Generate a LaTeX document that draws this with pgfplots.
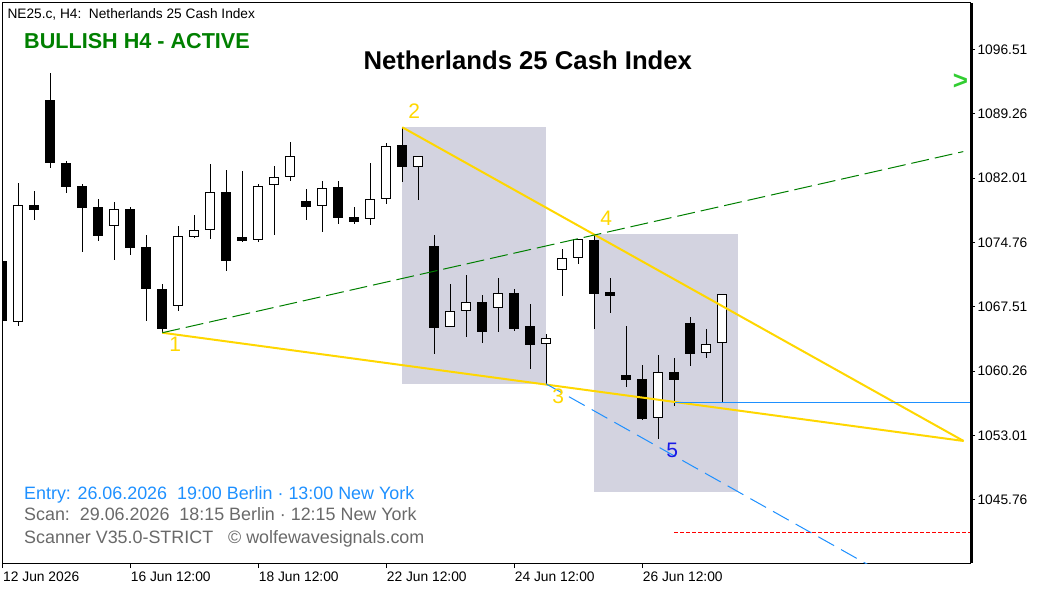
\documentclass[border=0pt]{standalone}
\usepackage{fontspec}
\setmainfont{Liberation Sans}
\usepackage{pgfplots}
\usepackage{pgfplotstable}
\pgfplotsset{compat=1.18}
\definecolor{gold}{RGB}{255,215,0}
\definecolor{boxgray}{RGB}{211,211,224}
\definecolor{dgreen}{RGB}{0,128,0}
\definecolor{dblue}{RGB}{30,144,255}
\definecolor{lgreen}{RGB}{50,205,50}
\definecolor{dgray}{RGB}{105,105,105}
\definecolor{wblue}{RGB}{25,25,230}

\pgfplotstableread{
x O H L C
0 1072.66 1073.34 1065.45 1065.93
2 1078.97 1080.55 1077.28 1078.41
3 1090.80 1093.88 1083.11 1083.67
4 1083.70 1083.93 1080.36 1081.03
5 1081.11 1081.34 1073.71 1078.67
6 1078.75 1079.65 1074.95 1075.51
8 1078.52 1078.75 1073.34 1074.16
9 1074.24 1075.59 1065.93 1069.54
10 1069.51 1070.07 1064.58 1065.00
14 1080.44 1082.92 1071.57 1072.69
15 1075.33 1082.80 1074.83 1074.95
19 1079.39 1080.77 1077.31 1078.78
21 1080.97 1081.68 1076.86 1077.54
22 1077.58 1078.75 1076.86 1077.09
25 1085.73 1087.73 1081.60 1083.29
27 1074.35 1075.59 1062.18 1065.14
30 1068.01 1068.83 1063.45 1064.69
32 1069.02 1069.51 1064.81 1065.03
33 1065.30 1067.81 1060.52 1063.23
37 1075.03 1075.59 1065.03 1068.98
38 1069.17 1070.71 1066.83 1068.75
39 1059.81 1065.34 1058.50 1059.28
40 1059.36 1060.94 1054.78 1054.86
42 1060.15 1061.73 1056.35 1059.28
43 1065.64 1066.35 1060.86 1062.24
}\bear

\pgfplotstableread{
x O H L C
1 1065.82 1081.42 1065.37 1078.97
7 1076.64 1079.28 1072.77 1078.49
11 1067.56 1076.60 1067.06 1075.48
12 1075.40 1077.84 1075.22 1076.15
13 1076.12 1083.59 1075.11 1080.44
16 1074.99 1081.34 1074.83 1081.08
17 1081.19 1083.37 1075.62 1082.09
18 1082.09 1086.07 1081.71 1084.46
20 1078.82 1081.68 1075.96 1080.85
23 1077.36 1083.70 1076.75 1079.61
24 1079.61 1085.92 1079.05 1085.59
26 1083.22 1084.46 1079.57 1084.46
28 1065.19 1070.07 1065.19 1066.99
29 1066.99 1071.08 1064.13 1068.01
31 1067.33 1070.74 1064.69 1069.02
34 1063.27 1064.40 1058.80 1063.95
35 1071.61 1074.01 1068.75 1072.96
36 1072.96 1075.11 1072.29 1075.11
41 1054.93 1062.07 1052.60 1060.12
44 1062.26 1065.00 1061.76 1063.27
45 1063.39 1068.91 1056.62 1068.91
}\bull

\pgfplotsset{candle/.style={only marks, mark=*, mark size=0.01pt, mark options={draw opacity=0, fill opacity=0},
  error bars/.cd, y dir=both, y explicit, error mark=none}}

\begin{document}
\begin{tikzpicture}[x=1pt,y=1pt]
\useasboundingbox (0,0) rectangle (1049,590);
\begin{axis}[
  name=ax, at={(2.7pt,27pt)}, anchor=south west,
  scale only axis, width=967.3pt, height=560.3pt,
  xmin=0.025, xmax=60.48, ymin=1038.63, ymax=1101.77,
  axis line style={line width=1pt, black},
  xtick={0.025,8,16,24,32,40},
  xticklabels={12 Jun 2026,16 Jun 12:00,18 Jun 12:00,22 Jun 12:00,24 Jun 12:00,26 Jun 12:00},
  ytick={1045.76,1053.01,1060.26,1067.51,1074.76,1082.01,1089.26,1096.51},
  yticklabels={1045.76,1053.01,1060.26,1067.51,1074.76,1082.01,1089.26,1096.51},
  xtick pos=left, ytick pos=right, yticklabel pos=right,
  tick align=outside, major tick length=5pt,
  tick style={line width=1pt, black},
  xticklabel style={font=\fontsize{13.8}{16}\selectfont, anchor=north west, xshift=-3pt},
  yticklabel style={font=\fontsize{13.8}{16}\selectfont, anchor=west, xshift=-1pt},
  clip=true,
]
% zones
\addplot[fill=boxgray, draw=none] coordinates {(25,1058.80) (34,1058.80) (34,1087.79) (25,1087.79)} -- cycle;
\addplot[fill=boxgray, draw=none] coordinates {(37,1046.66) (46,1046.66) (46,1075.70) (37,1075.70)} -- cycle;
% wicks
\addplot[candle, error bar style={line width=1pt, black}]
  table[x=x, y expr=(\thisrow{H}+\thisrow{L})/2, y error expr=(\thisrow{H}-\thisrow{L})/2] {\bear};
\addplot[candle, error bar style={line width=1pt, black}]
  table[x=x, y expr=(\thisrow{H}+\thisrow{L})/2, y error expr=(\thisrow{H}-\thisrow{L})/2] {\bull};
% bodies
\addplot[candle, error bar style={line width=10pt, black}]
  table[x=x, y expr=(\thisrow{O}+\thisrow{C})/2, y error expr=(\thisrow{O}-\thisrow{C})/2] {\bear};
\addplot[candle, error bar style={line width=10pt, black}]
  table[x=x, y expr=(\thisrow{O}+\thisrow{C})/2, y error expr=(\thisrow{C}-\thisrow{O})/2] {\bull};
\addplot[candle, error bar style={line width=8pt, white}]
  table[x=x, y expr=(\thisrow{O}+\thisrow{C})/2, y error expr=(\thisrow{C}-\thisrow{O})/2-0.113] {\bull};
% lines
\addplot[gold, line width=2pt] coordinates {(10,1064.58) (60.08,1052.38)};
\addplot[gold, line width=2pt] coordinates {(25,1087.73) (60.08,1052.38)};
\addplot[dgreen, line width=1pt, dash pattern=on 18pt off 6pt] coordinates {(10,1064.58) (60.06,1084.99)};
\addplot[dblue, line width=1pt, dash pattern=on 18pt off 8pt] coordinates {(34,1058.80) (56,1036.52)};
\addplot[dblue, line width=1pt] coordinates {(42.06,1056.72) (60.48,1056.72)};
\addplot[red, line width=1pt, dash pattern=on 4pt off 2pt] coordinates {(42,1042.09) (60.48,1042.09)};
% wave labels
\node[text=gold, font=\fontsize{21}{21}\selectfont] at (axis cs:10.8,1063.24) {1};
\node[text=gold, font=\fontsize{21}{21}\selectfont] at (axis cs:25.75,1089.52) {2};
\node[text=gold, font=\fontsize{21}{21}\selectfont] at (axis cs:34.75,1057.38) {3};
\node[text=gold, font=\fontsize{21}{21}\selectfont] at (axis cs:37.75,1077.45) {4};
\node[text=wblue, font=\fontsize{21}{21}\selectfont] at (axis cs:41.875,1051.29) {5};
\end{axis}
\draw[line width=3pt, black] ([xshift=1.5pt]ax.south east) -- ([xshift=1.5pt]ax.north east);
% texts
\node[anchor=base west, inner sep=0pt, font=\fontsize{13.7}{16}\selectfont] at (7.3,571.7) {NE25.c, H4:\ \ Netherlands 25 Cash Index};
\node[anchor=base west, inner sep=0pt, text=dgreen, font=\bfseries\fontsize{21.6}{24}\selectfont] at (24,541) {BULLISH H4 - ACTIVE};
\node[anchor=base, inner sep=0pt, font=\bfseries\fontsize{25.7}{28}\selectfont] at (527.8,520.7) {Netherlands 25 Cash Index};
\node[anchor=center, inner sep=0pt, text=lgreen, font=\bfseries\fontsize{26}{26}\selectfont] at (960.5,508.3) {>};
\node[anchor=base west, inner sep=0pt, text=dblue, font=\fontsize{17.9}{20}\selectfont] at (24,90.7) {Entry: 26.06.2026\ \ 19:00 Berlin · 13:00 New York};
\node[anchor=base west, inner sep=0pt, text=dgray, font=\fontsize{17.9}{20}\selectfont] at (24,69.3) {Scan:\ \ 29.06.2026\ \ 18:15 Berlin · 12:15 New York};
\node[anchor=base west, inner sep=0pt, text=dgray, font=\fontsize{17.9}{20}\selectfont] at (24,46.7) {Scanner V35.0-STRICT\ \ \ © wolfewavesignals.com};
\end{tikzpicture}
\end{document}
